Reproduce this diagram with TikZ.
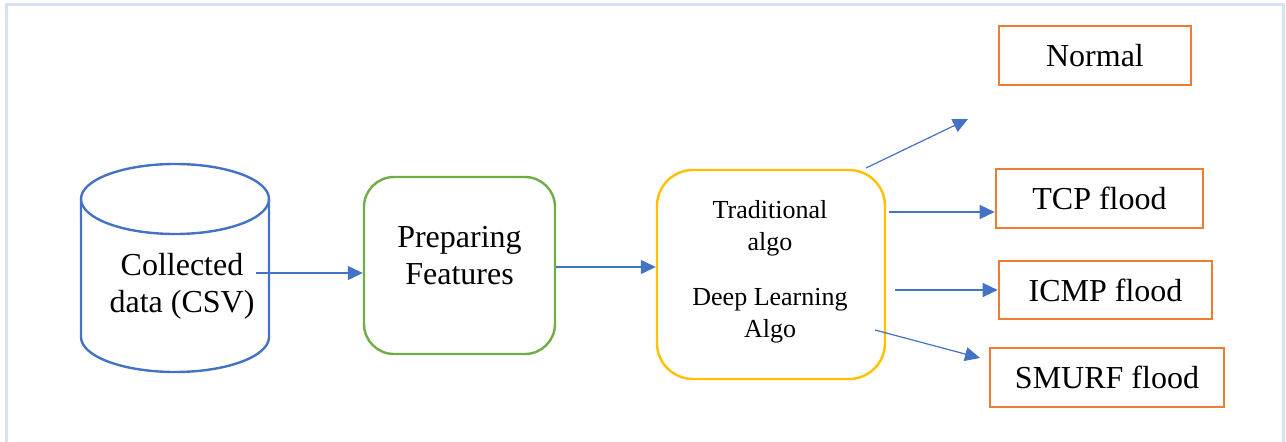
\documentclass[tikz,border=0pt]{standalone}
\usepackage{fontspec}
\setmainfont{Liberation Serif}
\usetikzlibrary{arrows.meta}
\definecolor{frameblue}{HTML}{D9E2F3}
\definecolor{dbblue}{HTML}{4472C4}
\definecolor{prepgreen}{HTML}{70AD47}
\definecolor{algoyellow}{HTML}{FFC000}
\definecolor{classorange}{HTML}{ED7D31}
\tikzset{
  flow/.style={draw=dbblue, line width=1.2pt, -{Triangle[length=15pt,width=14pt]}},
  roundbox/.style={rounded corners=30pt, line width=2.4pt, align=center},
  classbox/.style={draw=classorange, line width=2.6pt, font=\fontsize{32}{36}\selectfont},
  bigtext/.style={font=\fontsize{32}{37}\selectfont, align=center},
  algotext/.style={font=\fontsize{26}{32}\selectfont, align=center},
}
\begin{document}
\begin{tikzpicture}[x=1pt, y=-1pt]
\useasboundingbox (0,0) rectangle (1286,442);
% outer frame, open at the bottom
\draw[frameblue, line width=3pt] (6,442) -- (6,4.5) -- (1283.5,4.5) -- (1283.5,442);

% data store drawn as a cylinder
\draw[dbblue, line width=2.4pt]
  (81,199) -- (81,337) arc[start angle=180, end angle=0, x radius=94, y radius=35]
  -- (269,199);
\draw[dbblue, line width=2.4pt] (175,199) ellipse[x radius=94, y radius=35];
\node[bigtext] (csv) at (182,286) {Collected\\data (CSV)};
\coordinate (csvout) at (256,273);

% feature preparation
\node[roundbox, draw=prepgreen, minimum width=191pt, minimum height=177pt] (prep) at (459.5,265.5) {};
\node[bigtext] (preptext) at (459.5,256) {Preparing\\Features};

% model block
\node[roundbox, draw=algoyellow, rounded corners=36pt, minimum width=228pt, minimum height=209pt] (algo) at (771,274.5) {};
\node[algotext] (trad) at (770,228) {Traditional\\algo};
\node[algotext] (deep) at (770,316) {Deep Learning\\Algo};

% output classes
\node[classbox, minimum width=192pt, minimum height=59pt] (normal) at (1095,55.5) {Normal};
\node[classbox, minimum width=207pt, minimum height=59pt] (tcp) at (1099.5,198.5) {TCP flood};
\node[classbox, minimum width=213pt, minimum height=58pt] (icmp) at (1105.5,290) {ICMP flood};
\node[classbox, minimum width=234pt, minimum height=59pt] (smurf) at (1107,377.5) {SMURF flood};

% connectors
\coordinate (algoA) at (866,168);
\coordinate (normalIn) at (968,119);
\coordinate (algoB) at (889,212);
\coordinate (algoC) at (895,290);
\coordinate (algoD) at (875,330);
\coordinate (smurfIn) at (980,358);
\draw[flow] (csvout) -- (prep.west |- csvout);
\draw[flow] (prep.east |- 0,267) -- (algo.west |- 0,267);
\draw[flow] (algoA) -- (normalIn);
\draw[flow] (algoB) -- (tcp.west |- algoB);
\draw[flow] (algoC) -- (icmp.west |- algoC);
\draw[flow] (algoD) -- (smurfIn);
\end{tikzpicture}
\end{document}
